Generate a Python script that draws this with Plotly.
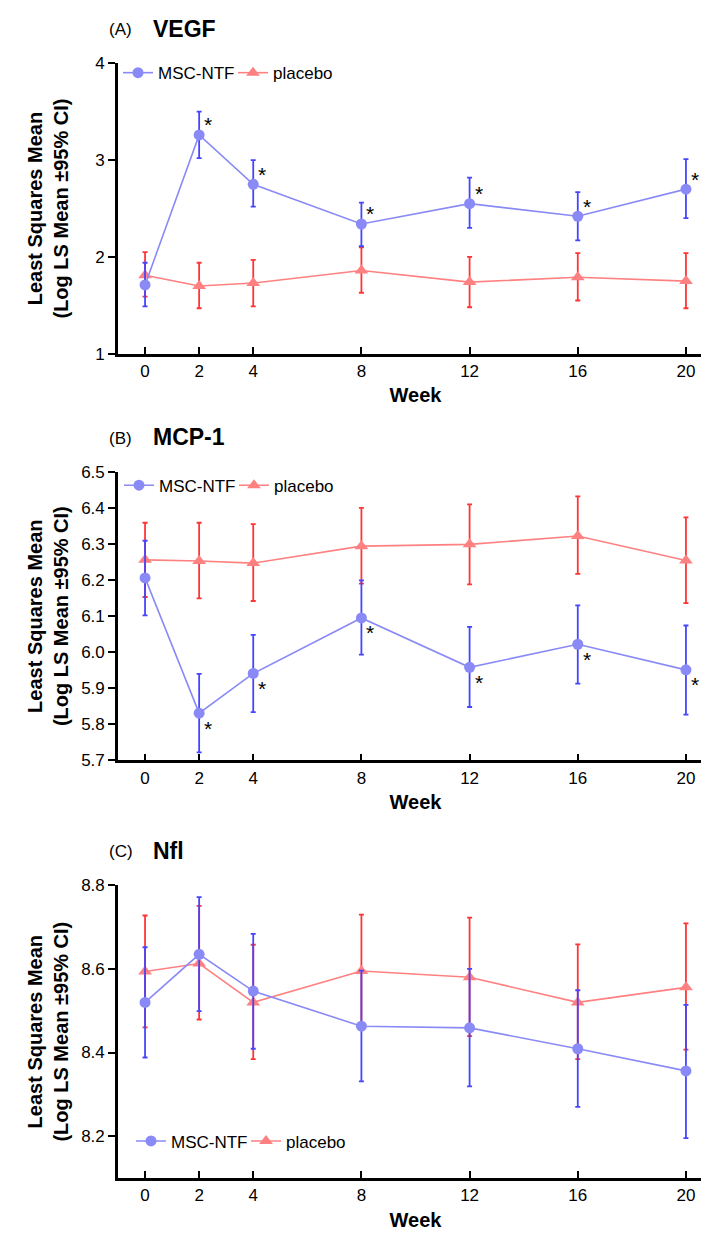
import plotly.graph_objects as go

W, H = 709, 1233

weeks = [0, 2, 4, 8, 12, 16, 20]
week_ticks = [0, 2, 4, 8, 12, 16, 20]

# (A) VEGF
vegf_msc = [1.71, 3.26, 2.75, 2.34, 2.55, 2.42, 2.70]
vegf_msc_hi = [1.94, 3.50, 3.00, 2.56, 2.82, 2.67, 3.01]
vegf_msc_lo = [1.49, 3.02, 2.52, 2.11, 2.30, 2.17, 2.40]
vegf_pla = [1.81, 1.70, 1.73, 1.86, 1.74, 1.79, 1.75]
vegf_pla_hi = [2.05, 1.94, 1.97, 2.10, 2.00, 2.04, 2.04]
vegf_pla_lo = [1.59, 1.47, 1.49, 1.63, 1.48, 1.55, 1.47]
vegf_sig = ["", "*", "*", "*", "*", "*", "*"]

# (B) MCP-1
mcp_msc = [6.206, 5.831, 5.941, 6.095, 5.958, 6.022, 5.951]
mcp_msc_hi = [6.309, 5.940, 6.048, 6.199, 6.070, 6.130, 6.074]
mcp_msc_lo = [6.102, 5.722, 5.834, 5.993, 5.848, 5.913, 5.827]
mcp_pla = [6.256, 6.253, 6.247, 6.294, 6.299, 6.322, 6.254]
mcp_pla_hi = [6.359, 6.359, 6.355, 6.400, 6.410, 6.432, 6.374]
mcp_pla_lo = [6.153, 6.149, 6.142, 6.190, 6.188, 6.217, 6.136]
mcp_sig = ["", "*", "*", "*", "*", "*", "*"]

# (C) Nfl
nfl_msc = [8.520, 8.635, 8.547, 8.463, 8.459, 8.409, 8.356]
nfl_msc_hi = [8.652, 8.772, 8.684, 8.596, 8.600, 8.549, 8.514]
nfl_msc_lo = [8.388, 8.499, 8.409, 8.331, 8.319, 8.270, 8.195]
nfl_pla = [8.594, 8.613, 8.520, 8.595, 8.580, 8.520, 8.556]
nfl_pla_hi = [8.728, 8.751, 8.658, 8.730, 8.723, 8.659, 8.709]
nfl_pla_lo = [8.460, 8.479, 8.384, 8.460, 8.439, 8.384, 8.407]

MSC_COL = "#8a8af7"
MSC_ERR = "#4545ff"
PLA_COL = "#ff8080"
PLA_ERR = "#ff3535"
FONT = "Liberation Sans, Arial, sans-serif"


def py(px_from_top):
    return 1 - px_from_top / H


fig = go.Figure()

# panel geometry in pixels: (top of y range, bottom of y range)
panels = [
    dict(tag="(A)", name="VEGF", msc=vegf_msc, mhi=vegf_msc_hi, mlo=vegf_msc_lo,
         pla=vegf_pla, phi=vegf_pla_hi, plo=vegf_pla_lo, sig=vegf_sig, sig_up=True,
         yr=[1, 4], dt=1, tv=None, top=47, bot=342, leg=(110, 57)),
    dict(tag="(B)", name="MCP-1", msc=mcp_msc, mhi=mcp_msc_hi, mlo=mcp_msc_lo,
         pla=mcp_pla, phi=mcp_pla_hi, plo=mcp_pla_lo, sig=mcp_sig, sig_up=False,
         yr=[5.7, 6.5], dt=0.1, tv=None, top=462, bot=755, leg=(111, 476)),
    dict(tag="(C)", name="Nfl", msc=nfl_msc, mhi=nfl_msc_hi, mlo=nfl_msc_lo,
         pla=nfl_pla, phi=nfl_pla_hi, plo=nfl_pla_lo, sig=None, sig_up=False,
         yr=[8.1, 8.8], dt=None, tv=[8.2, 8.4, 8.6, 8.8], top=882, bot=1179, leg=(123, 1142)),
]

annotations = []
for i, p in enumerate(panels):
    n = "" if i == 0 else str(i + 1)
    xa, ya = "x" + n, "y" + n
    lg = "legend" + n
    # placebo first so the MSC-NTF markers sit on top, legend order kept by rank
    fig.add_trace(go.Scatter(
        x=weeks, y=p["pla"], mode="lines+markers", name="placebo", legendrank=2,
        line=dict(color=PLA_COL, width=1.6),
        marker=dict(symbol="triangle-up", size=12, color=PLA_COL),
        error_y=dict(type="data", symmetric=False,
                     array=[h - v for h, v in zip(p["phi"], p["pla"])],
                     arrayminus=[v - l for l, v in zip(p["plo"], p["pla"])],
                     color=PLA_ERR, thickness=1.8, width=2.5),
        xaxis=xa, yaxis=ya, legend=lg))
    fig.add_trace(go.Scatter(
        x=weeks, y=p["msc"], mode="lines+markers", name="MSC-NTF", legendrank=1,
        line=dict(color=MSC_COL, width=1.6),
        marker=dict(symbol="circle", size=11, color=MSC_COL),
        error_y=dict(type="data", symmetric=False,
                     array=[h - v for h, v in zip(p["mhi"], p["msc"])],
                     arrayminus=[v - l for l, v in zip(p["mlo"], p["msc"])],
                     color=MSC_ERR, thickness=1.8, width=2.5),
        xaxis=xa, yaxis=ya, legend=lg))

    if p["sig"]:
        for wk, v, s in zip(weeks, p["msc"], p["sig"]):
            if s:
                annotations.append(dict(
                    x=wk, y=v, xref=xa, yref=ya, text=s, showarrow=False,
                    xshift=9, yshift=10 if p["sig_up"] else -15,
                    font=dict(size=21, color="black", family=FONT)))

    dom = [py(p["bot"]), py(p["top"])]
    axis_x = dict(domain=[110 / W, 705 / W], range=[-1, 21], tickvals=week_ticks,
                  showline=True, linewidth=2.6, linecolor="black", ticks="inside",
                  ticklen=7, tickwidth=2, tickcolor="black", showgrid=False, zeroline=False,
                  tickfont=dict(size=17, color="black", family=FONT),
                  title=dict(text="<b>Week</b>", standoff=9,
                             font=dict(size=20, color="black", family=FONT)),
                  anchor=ya)
    axis_y = dict(domain=dom, range=p["yr"], showline=True, linewidth=2.6,
                  linecolor="black", ticks="outside", ticklen=7, tickwidth=2,
                  tickcolor="black", showgrid=False, zeroline=False,
                  tickfont=dict(size=17, color="black", family=FONT), anchor=xa)
    if p["tv"]:
        axis_y["tickvals"] = p["tv"]
        axis_y["ticktext"] = [f"{t:.1f}" for t in p["tv"]]
    else:
        axis_y["dtick"] = p["dt"]
        if p["dt"] < 1:
            axis_y["tickformat"] = ".1f"
    fig.update_layout(**{"xaxis" + n: axis_x, "yaxis" + n: axis_y})

    lx, ly = p["leg"]
    fig.update_layout(**{lg: dict(
        x=lx / W, y=py(ly), xanchor="left", yanchor="middle", orientation="h",
        bgcolor="rgba(0,0,0,0)", font=dict(size=17, color="black", family=FONT),
        itemwidth=30, entrywidth=70, entrywidthmode="pixels", traceorder="normal")})

    annotations.append(dict(x=99 / W, y=py(p["top"] - 34), xref="paper", yref="paper",
                            xanchor="left", yanchor="middle", showarrow=False,
                            text=p["tag"], font=dict(size=17, color="black", family=FONT)))
    annotations.append(dict(x=143 / W, y=py(p["top"] - 35), xref="paper", yref="paper",
                            xanchor="left", yanchor="middle", showarrow=False,
                            text="<b>" + p["name"] + "</b>",
                            font=dict(size=23, color="black", family=FONT)))
    annotations.append(dict(x=40 / W, y=py((p["top"] + p["bot"]) / 2), xref="paper",
                            yref="paper", xanchor="center", yanchor="middle",
                            showarrow=False, textangle=-90,
                            text="<b>Least Squares Mean<br>(Log LS Mean ±95% CI)</b>",
                            font=dict(size=20, color="black", family=FONT)))

fig.update_layout(
    width=W, height=H, margin=dict(l=0, r=0, t=0, b=0),
    paper_bgcolor="white", plot_bgcolor="white",
    annotations=annotations, showlegend=True,
)

fig.write_html("out.html")
